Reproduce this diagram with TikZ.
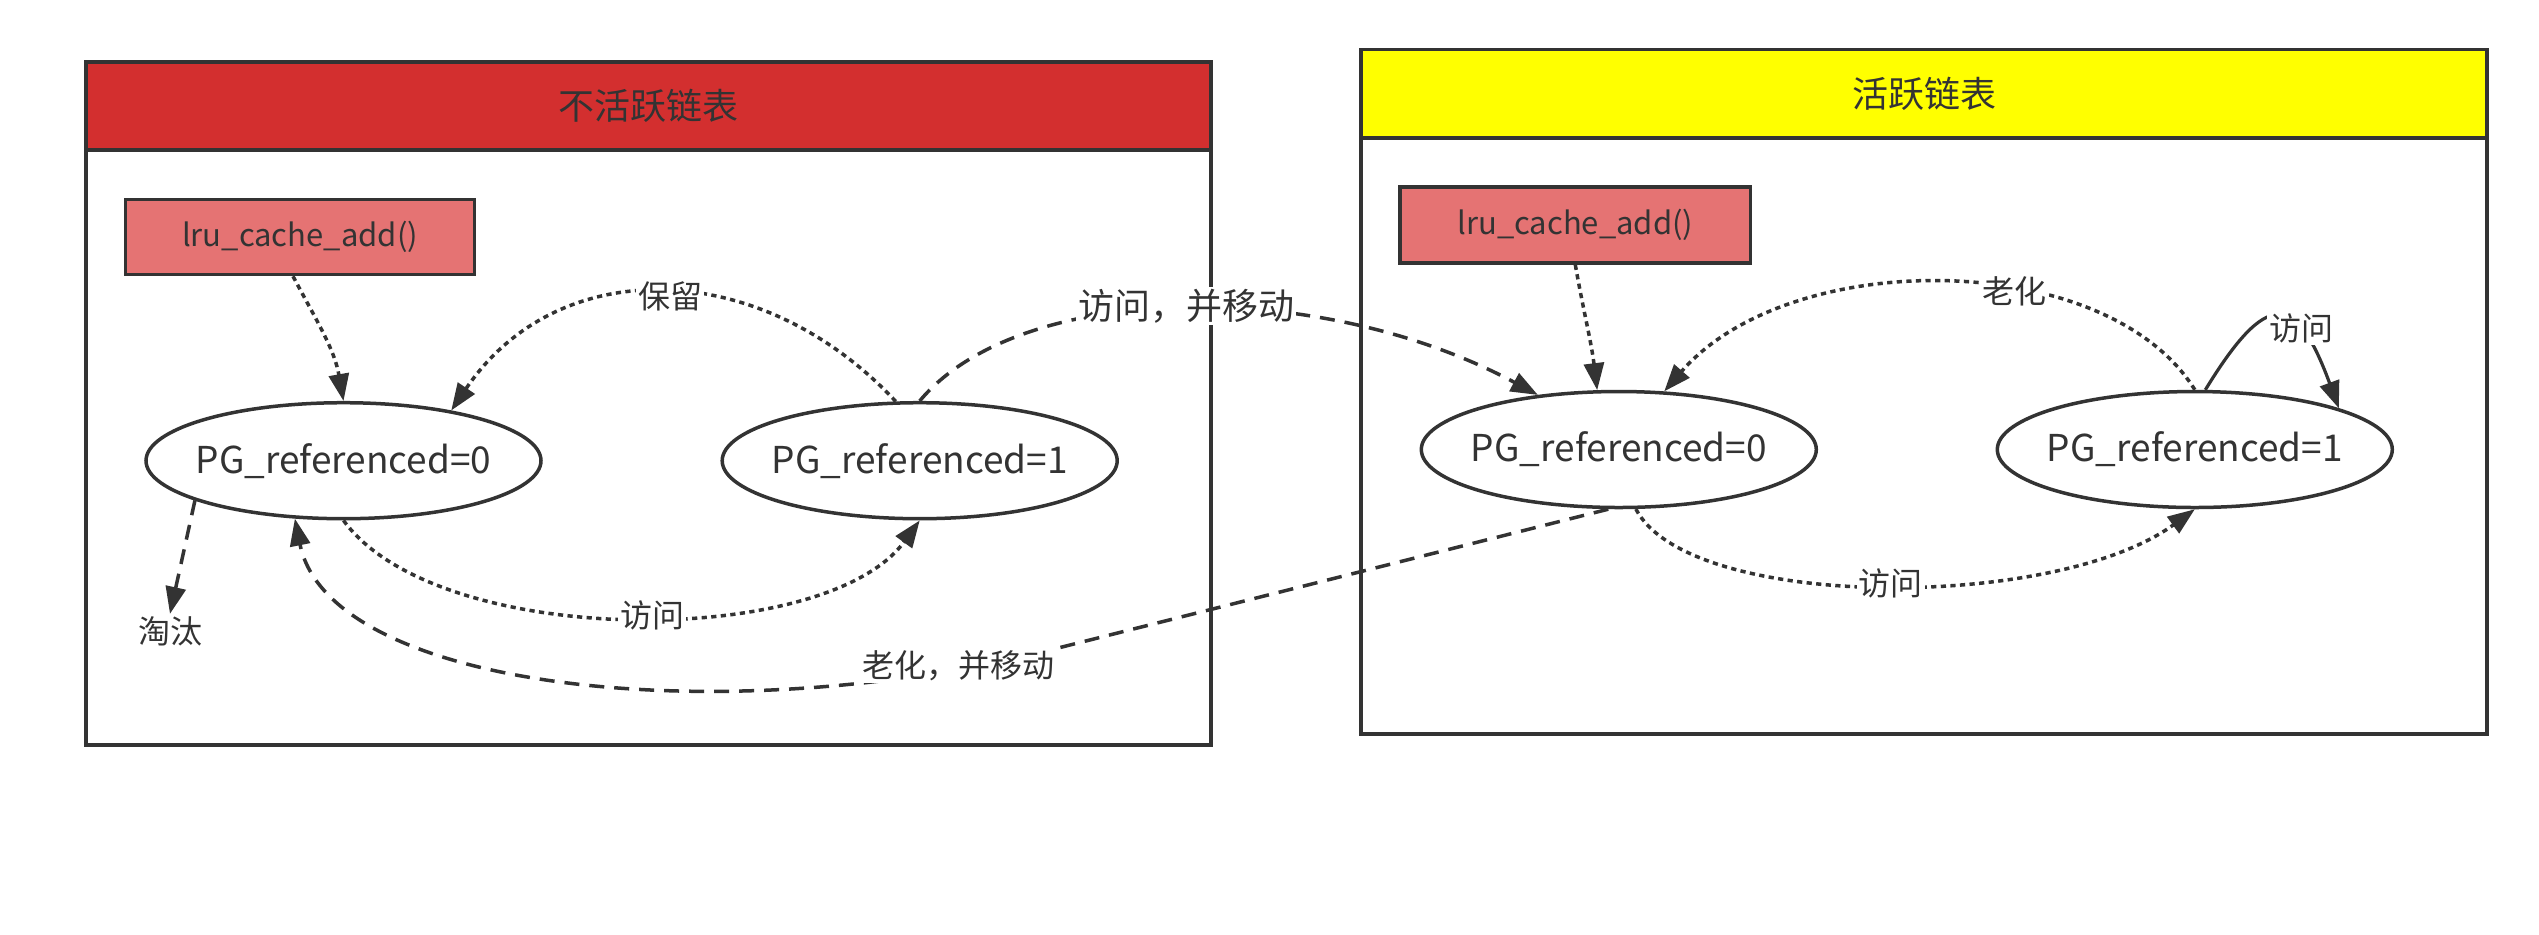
\documentclass[tikz,border=0pt]{standalone}
\usepackage{fontspec}
\setmainfont{Noto Sans CJK SC}
\usetikzlibrary{shapes.geometric, arrows.meta}
\definecolor{ink}{HTML}{333333}
\definecolor{hdrred}{HTML}{D32F2F}
\definecolor{hdryel}{HTML}{FFFF00}
\definecolor{boxred}{HTML}{E57373}
\begin{document}
\begin{tikzpicture}[x=0.5pt, y=-0.5pt,
  container/.style={draw=ink, line width=1.75pt, rectangle, inner sep=0pt},
  header/.style={draw=ink, line width=1.75pt, rectangle, inner sep=0pt, text=ink, font=\fontsize{18pt}{20pt}\selectfont},
  funcbox/.style={draw=ink, line width=1.75pt, rectangle, inner sep=0pt, fill=boxred, text=ink, font=\fontsize{15.5pt}{18pt}\selectfont},
  state/.style={ellipse, draw=ink, line width=1.75pt, fill=white, minimum width=197.5pt, minimum height=58pt, inner sep=0pt, text=ink, font=\fontsize{18.5pt}{22pt}\selectfont},
  tip/.style={-{Triangle[length=13.5pt,width=10pt]}},
  dotline/.style={draw=ink, line width=1.75pt, dash pattern=on 2.6pt off 2.2pt, tip},
  dashline/.style={draw=ink, line width=1.75pt, dash pattern=on 7.5pt off 5pt, tip},
  solidline/.style={draw=ink, line width=1.6pt, tip},
  lbl/.style={fill=white, inner sep=1pt, text=ink, font=\fontsize{16pt}{18pt}\selectfont}
]
\useasboundingbox (0,0) rectangle (2539,934);
\fill[white] (0,0) rectangle (2539,934);

% containers
\node[container, minimum width=562.5pt, minimum height=341.5pt] (inactive) at (648.5,403.5) {};
\node[header, fill=hdrred, minimum width=562.5pt, minimum height=44pt] (inactivehdr) at (648.5,106) {不活跃链表};
\node[container, minimum width=563pt, minimum height=342.25pt] (active) at (1924,391.75) {};
\node[header, fill=hdryel, minimum width=563pt, minimum height=44.25pt] (activehdr) at (1924,93.75) {活跃链表};

% function boxes
\node[funcbox, minimum width=174.5pt, minimum height=37.5pt] (lruL) at (300,237) {lru\_cache\_add()};
\node[funcbox, minimum width=175.3pt, minimum height=38pt] (lruR) at (1575.3,225) {lru\_cache\_add()};

% states
\node[state] (L0) at (343.5,460.7) {\makebox[0pt]{PG\_referenced=0}};
\node[state] (L1) at (919.7,460.7) {\makebox[0pt]{PG\_referenced=1}};
\node[state] (R0) at (1618.8,449.5) {\makebox[0pt]{PG\_referenced=0}};
\node[state] (R1) at (2194.8,449.5) {\makebox[0pt]{PG\_referenced=1}};

\node[text=ink, inner sep=1pt, font=\fontsize{16pt}{18pt}\selectfont] (taotai) at (170,631) {淘汰};

% connectors
\draw[dotline] ([xshift=-3.5pt]lruL.south) to[out=-62, in=100] (L0.north);
\draw[dotline] (lruR.south) to[out=-80, in=97] (R0.110);
\draw[dashline] (L0.-165) -- (taotai.north);
\draw[dotline] (L1.112) .. controls +(-135,-144.5) and +(107,-158) .. (L0.25);
\draw[dotline] (L0.south) .. controls +(94,129) and +(-94,129) .. (L1.south);
\draw[dashline] (L1.north) .. controls +(99,-119) and +(-222,-119) .. (R0.146);
\coordinate (agebend) at (1062,647);
\draw[dashline] (R0.260) -- (agebend) .. controls +(-339.5,87.5) and +(34,170) .. (L0.-130);
\draw[dotline] (R1.north) .. controls +(-88,-141.5) and +(126,-145) .. (R0.52);
\draw[dotline] (R0.-74) .. controls +(53,102) and +(-140,102) .. (R1.south);
\draw[solidline] (R1.80) .. controls +(61.5,-100.5) and +(-43,-117) .. (R1.16);

% labels
\node[lbl] (lkeep) at (670,296.5) {保留};
\node[lbl] (lvisitA) at (652,615.6) {访问};
\node[lbl] (lagemove) at (958,665.5) {老化，并移动};
\node[lbl, font=\fontsize{18pt}{20pt}\selectfont] (lvisitmove) at (1186,306) {访问，并移动};
\node[lbl] (lage) at (2014.6,291) {老化};
\node[lbl] (lvisitB) at (2301,328.6) {访问};
\node[lbl] (lvisitC) at (1890.6,583.6) {访问};
\end{tikzpicture}
\end{document}
